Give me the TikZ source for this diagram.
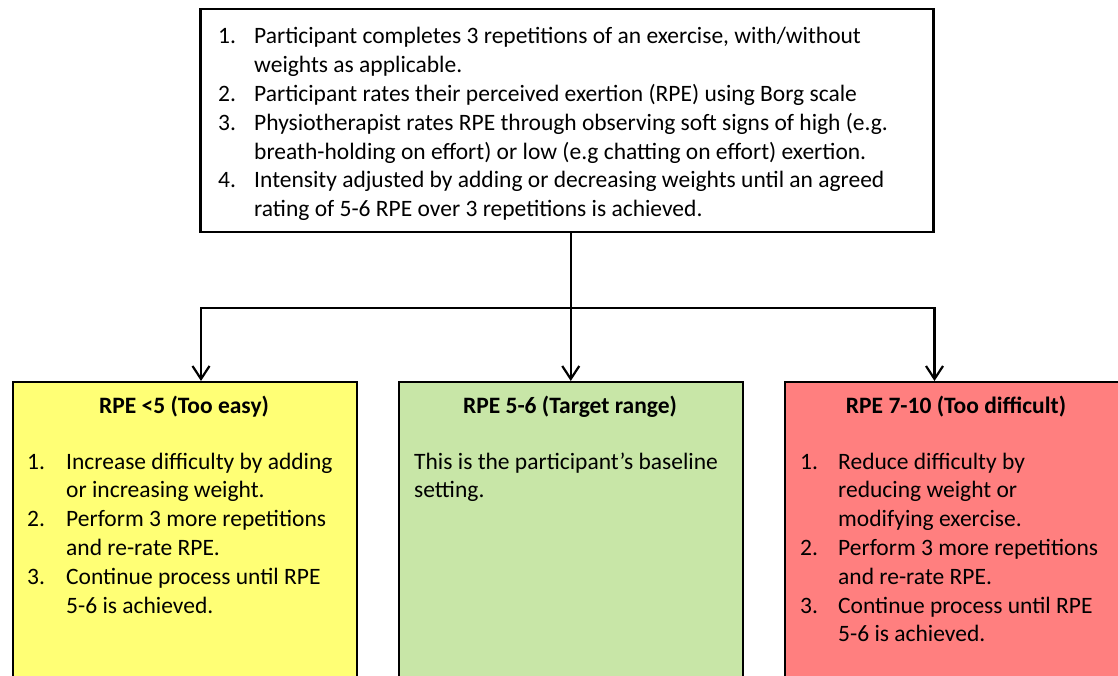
\documentclass[tikz,border=0pt]{standalone}
\usepackage{fontspec}
\setmainfont{Carlito}
\usetikzlibrary{arrows.meta}
\definecolor{easyfill}{HTML}{FFFF75}
\definecolor{targetfill}{HTML}{C8E6A7}
\definecolor{hardfill}{HTML}{FF7F7F}
\newcommand{\lst}[1]{\begin{tabular}[t]{@{}p{#1}@{}l@{}}}
\begin{document}
\begin{tikzpicture}[x=1pt,y=-1pt,
  topbox/.style={draw=black, line width=2.5pt, fill=white, anchor=north west, inner sep=0pt},
  outbox/.style={draw=black, line width=1.5pt, anchor=north west, inner sep=0pt, minimum width=344pt, minimum height=330pt},
  txt/.style={anchor=base west, inner sep=0pt, font=\fontsize{23.5}{28.8}\selectfont},
  ttl/.style={anchor=base, inner sep=0pt, font=\fontsize{23.5}{28.8}\selectfont\bfseries},
  arr/.style={line width=2.2pt, -{Straight Barb[length=13pt,width=17pt]}},
  conn/.style={line width=2.2pt}]
\useasboundingbox (0,0) rectangle (1118,676);
\clip (0,0) rectangle (1118,676);
\fill[white] (0,0) rectangle (1118,676);

\node[topbox, minimum width=733pt, minimum height=223pt] (top) at (199,8) {};
\node[txt] (toptext) at (218,44) {\lst{36pt}
1. & Participant completes 3 repetitions of an exercise, with/without\\
   & weights as applicable.\\
2. & Participant rates their perceived exertion (RPE) using Borg scale\\
3. & Physiotherapist rates RPE through observing soft signs of high (e.g.\\
   & breath-holding on effort) or low (e.g chatting on effort) exertion.\\
4. & Intensity adjusted by adding or decreasing weights until an agreed\\
   & rating of 5-6 RPE over 3 repetitions is achieved.
\end{tabular}};

\node[outbox, fill=easyfill] (easy) at (12,381) {};
\node[outbox, fill=targetfill] (target) at (398,381) {};
\node[outbox, fill=hardfill] (hard) at (784,381) {};

\node[ttl] (easyttl) at (184,413) {RPE <5 (Too easy)};
\node[ttl] (targetttl) at (570,413) {RPE 5-6 (Target range)};
\node[ttl] (hardttl) at (956,413) {RPE 7-10 (Too difficult)};

\node[txt] (easytext) at (27,469) {\lst{39pt}
1. & Increase difficulty by adding\\
   & or increasing weight.\\
2. & Perform 3 more repetitions\\
   & and re-rate RPE.\\
3. & Continue process until RPE\\
   & 5-6 is achieved.
\end{tabular}};

\node[txt] (targettext) at (414,469) {\begin{tabular}[t]{@{}l@{}}
This is the participant’s baseline\\
setting.
\end{tabular}};

\node[txt] (hardtext) at (800,469) {\lst{38pt}
1. & Reduce difficulty by\\
   & reducing weight or\\
   & modifying exercise.\\
2. & Perform 3 more repetitions\\
   & and re-rate RPE.\\
3. & Continue process until RPE\\
   & 5-6 is achieved.
\end{tabular}};

\coordinate (split) at (570,308);
\draw[arr] (target.north |- top.south) -- (target.north);
\draw[arr] (split) -| ([xshift=2pt]easy.north -| top.west);
\draw[arr] (split) -| (hard.north -| top.east);
\end{tikzpicture}
\end{document}
